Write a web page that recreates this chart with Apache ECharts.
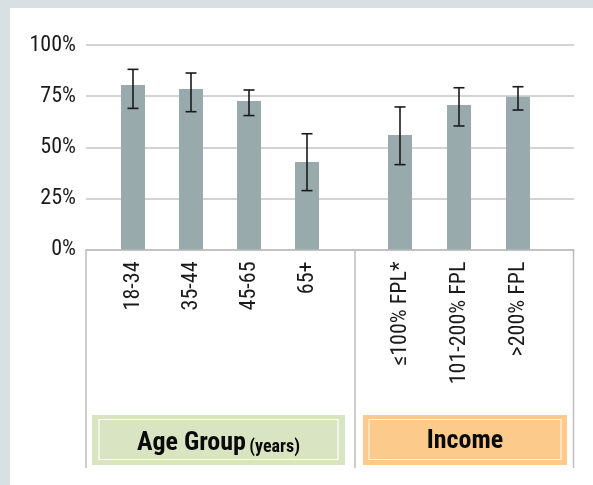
<!DOCTYPE html>
<html>
<head>
<meta charset="utf-8">
<script src="https://cdn.jsdelivr.net/npm/echarts@6/dist/echarts.min.js"></script>
<style>
  html, body { margin: 0; padding: 0; background: #d8e0e3; }
  #panel { position: absolute; left: 10px; top: 8px; width: 583px; height: 477px; background: #ffffff; }
  #chart { position: absolute; left: 0; top: 0; width: 593px; height: 485px; }
</style>
</head>
<body>
<div id="panel"></div>
<div id="chart"></div>
<script>
// ---- data ----
const categoriesAge = ['18-34', '35-44', '45-65', '65+'];
const valuesAge = [80.5, 78.5, 72.6, 42.8];
const errLowAge = [69.0, 67.4, 65.5, 28.8];
const errHighAge = [88.1, 86.3, 78.0, 56.6];

const categoriesIncome = ['≤100% FPL*', '101-200% FPL', '>200% FPL'];
const valuesIncome = [56.0, 70.7, 74.7];
const errLowIncome = [41.5, 60.4, 68.2];
const errHighIncome = [69.7, 79.1, 79.6];

const yMin = 0, yMax = 100, yInterval = 25;
const groupLabels = ['Age Group', '(years)', 'Income'];

// ---- styles ----
const FONT = "'Roboto Condensed', 'Roboto', sans-serif";
const fs = 22, fsTitle = 26, fsSub = 18;
const barColor = '#99aaad';
const gridColor = '#c4c4c4';
const TOP = 45, HEIGHT = 204.5;

function errData(low, high) {
  return low.map((l, i) => [i, l, high[i]]);
}
function errRender(params, api) {
  const x = api.value(0);
  const lo = api.coord([x, api.value(1)]);
  const hi = api.coord([x, api.value(2)]);
  const cap = 5.5;
  const st = { stroke: '#1a1a1a', lineWidth: 1.6 };
  return {
    type: 'group',
    children: [
      { type: 'line', shape: { x1: lo[0], y1: lo[1], x2: hi[0], y2: hi[1] }, style: st },
      { type: 'line', shape: { x1: lo[0] - cap, y1: lo[1], x2: lo[0] + cap, y2: lo[1] }, style: st },
      { type: 'line', shape: { x1: hi[0] - cap, y1: hi[1], x2: hi[0] + cap, y2: hi[1] }, style: st }
    ]
  };
}
function catAxis(gridIndex, data) {
  return {
    type: 'category', gridIndex, data,
    axisLine: { show: false }, axisTick: { show: false },
    axisLabel: { rotate: 90, margin: 12, fontSize: fs, color: '#1a1a1a', fontFamily: FONT, interval: 0 }
  };
}
function hiddenY(gridIndex) {
  return { type: 'value', gridIndex, min: yMin, max: yMax, interval: yInterval, show: false, splitLine: { show: false } };
}

const chart = echarts.init(document.getElementById('chart'), null, { renderer: 'canvas' });
const option = {
  animation: false,
  backgroundColor: 'transparent',
  grid: [
    { left: 86, right: 19, top: TOP, height: HEIGHT },
    { left: 104, width: 232, top: TOP, height: HEIGHT },
    { left: 370.5, width: 177, top: TOP, height: HEIGHT }
  ],
  xAxis: [
    { type: 'category', gridIndex: 0, data: ['', ''],
      axisLine: { show: true, lineStyle: { color: '#bdbdbd', width: 1.5 } },
      axisTick: { show: false }, axisLabel: { show: false } },
    catAxis(1, categoriesAge),
    catAxis(2, categoriesIncome)
  ],
  yAxis: [
    { type: 'value', gridIndex: 0, min: yMin, max: yMax, interval: yInterval,
      axisLine: { show: false }, axisTick: { show: false },
      axisLabel: { formatter: '{value}%', fontSize: fs, color: '#1a1a1a', fontFamily: FONT, margin: 10 },
      splitLine: { lineStyle: { color: gridColor, width: 1.5 } } },
    hiddenY(1),
    hiddenY(2)
  ],
  series: [
    { type: 'bar', xAxisIndex: 1, yAxisIndex: 1, data: valuesAge, barWidth: 24, itemStyle: { color: barColor } },
    { type: 'custom', xAxisIndex: 1, yAxisIndex: 1, data: errData(errLowAge, errHighAge), renderItem: errRender, z: 5 },
    { type: 'bar', xAxisIndex: 2, yAxisIndex: 2, data: valuesIncome, barWidth: 24, itemStyle: { color: barColor } },
    { type: 'custom', xAxisIndex: 2, yAxisIndex: 2, data: errData(errLowIncome, errHighIncome), renderItem: errRender, z: 5 }
  ],
  graphic: [
    { type: 'line', shape: { x1: 86, y1: 249.5, x2: 86, y2: 468 }, style: { stroke: '#bdbdbd', lineWidth: 1.5 } },
    { type: 'line', shape: { x1: 355, y1: 249.5, x2: 355, y2: 468 }, style: { stroke: '#bdbdbd', lineWidth: 1.5 } },
    { type: 'line', shape: { x1: 573.5, y1: 249.5, x2: 573.5, y2: 468 }, style: { stroke: '#bdbdbd', lineWidth: 1.5 } },
    { type: 'rect', shape: { x: 92, y: 415, width: 253, height: 50 }, style: { fill: '#d9e4c2' } },
    { type: 'rect', shape: { x: 99, y: 419.5, width: 239, height: 40 }, style: { fill: 'none', stroke: '#ffffff', lineWidth: 1.2 } },
    { type: 'rect', shape: { x: 363, y: 415, width: 204, height: 50 }, style: { fill: '#fccb8b' } },
    { type: 'rect', shape: { x: 369, y: 419.5, width: 192, height: 40 }, style: { fill: 'none', stroke: '#fff3df', lineWidth: 1.2 } },
    { type: 'text', x: 218.5, y: 441, z: 10,
      style: { text: '{a|' + groupLabels[0] + '} {b|' + groupLabels[1] + '}', align: 'center', verticalAlign: 'middle',
        rich: {
          a: { fontSize: fsTitle, fontWeight: 'bold', fontFamily: FONT, fill: '#0a0a0a', verticalAlign: 'bottom', lineHeight: 30 },
          b: { fontSize: fsSub, fontWeight: 'bold', fontFamily: FONT, fill: '#0a0a0a', verticalAlign: 'bottom', lineHeight: 31 }
        } } },
    { type: 'text', x: 465, y: 441, z: 10,
      style: { text: groupLabels[2], align: 'center', verticalAlign: 'middle', fontSize: fsTitle, fontWeight: 'bold', fontFamily: FONT, fill: '#0a0a0a' } }
  ]
};
chart.setOption(option);
</script>
</body>
</html>
